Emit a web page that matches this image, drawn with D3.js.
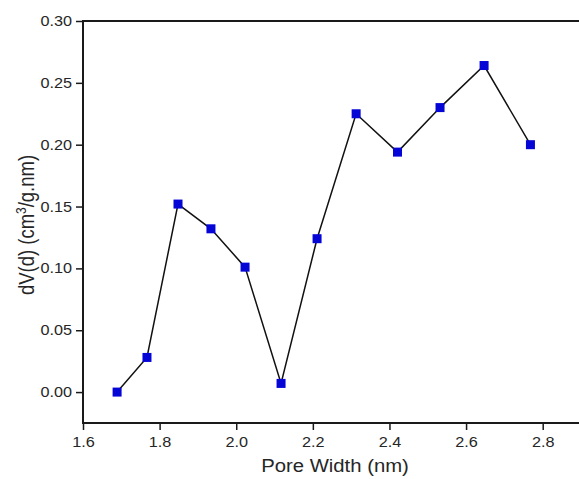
<!DOCTYPE html>
<html>
<head>
<meta charset="utf-8">
<script src="https://cdn.jsdelivr.net/npm/d3@7"></script>
<style>
  html, body { margin: 0; padding: 0; background: #fff; }
  svg { display: block; }
  text { font-family: "Liberation Sans", Arial, sans-serif; fill: #262626; }
</style>
</head>
<body>
<svg id="chart" width="579" height="479"></svg>
<script>
// Pore size distribution: pore width (nm) vs dV(d) (cm³/g.nm)
const poreWidth = [1.689, 1.767, 1.848, 1.934, 2.023, 2.117, 2.211, 2.313, 2.421, 2.532, 2.647, 2.768];
const dVd       = [0.000, 0.028, 0.152, 0.132, 0.101, 0.007, 0.124, 0.225, 0.194, 0.230, 0.264, 0.200];
const xTicks = [1.6, 1.8, 2.0, 2.2, 2.4, 2.6, 2.8];
const yTicks = [0.00, 0.05, 0.10, 0.15, 0.20, 0.25, 0.30];

const svg = d3.select("#chart");
const plotLeft = 83, plotRight = 581, plotTop = 21, plotBottom = 423;
const stretch = 1.16; // horizontal glyph stretch

const x = d3.scaleLinear().domain([1.6, 2.9]).range([plotLeft, plotRight]);
const y = d3.scaleLinear().domain([-0.025, 0.30]).range([plotBottom, plotTop]);

const axisColor = "#1a1a1a";

// frame (top and right edges)
svg.append("line").attr("x1", plotLeft).attr("x2", plotRight).attr("y1", plotTop).attr("y2", plotTop)
  .attr("stroke", axisColor).attr("stroke-width", 2);
svg.append("line").attr("x1", plotRight).attr("x2", plotRight).attr("y1", plotTop).attr("y2", plotBottom)
  .attr("stroke", axisColor).attr("stroke-width", 2);

// bottom axis
const xAxis = svg.append("g").attr("transform", `translate(0,${plotBottom})`)
  .call(d3.axisBottom(x).tickValues(xTicks).tickFormat(d3.format(".1f")).tickSizeOuter(0).tickSize(7));
// left axis
const yAxis = svg.append("g").attr("transform", `translate(${plotLeft},0)`)
  .call(d3.axisLeft(y).tickValues(yTicks).tickFormat(d3.format(".2f")).tickSizeOuter(0).tickSize(7));

[xAxis, yAxis].forEach(g => {
  g.select(".domain").attr("stroke", axisColor).attr("stroke-width", 2);
  g.selectAll(".tick line").attr("stroke", axisColor).attr("stroke-width", 1.5);
  g.selectAll(".tick text").attr("font-size", 14).attr("fill", "#2a2a2a");
});
yAxis.select(".domain").attr("d", `M0,${plotBottom + 1}V${plotTop - 1}`);
xAxis.select(".domain").attr("d", `M${plotLeft - 1},0H${plotRight}`);

// stretched tick labels
xAxis.selectAll(".tick text")
  .attr("y", 0).attr("dy", "0.32em")
  .attr("transform", `translate(0,20) scale(${stretch},1)`);
yAxis.selectAll(".tick text")
  .attr("x", 0).attr("dy", "0.32em")
  .attr("transform", `translate(-11,0) scale(${stretch},1)`);

// axis titles
svg.append("text")
  .attr("transform", `translate(335,472) scale(${stretch},1)`)
  .attr("text-anchor", "middle").attr("font-size", 17.5)
  .text("Pore Width (nm)");

const yTitle = svg.append("text")
  .attr("transform", `translate(34,225) scale(${stretch},1) rotate(-90)`)
  .attr("text-anchor", "middle").attr("font-size", 18.5);
yTitle.append("tspan").text("dV(d) (cm");
yTitle.append("tspan").attr("font-size", 12).attr("dy", -7).text("3");
yTitle.append("tspan").attr("dy", 7).text("/g.nm)");

// data line
const pts = poreWidth.map((d, i) => [d, dVd[i]]);
svg.append("path")
  .datum(pts)
  .attr("fill", "none").attr("stroke", "#111").attr("stroke-width", 1.5)
  .attr("d", d3.line().x(d => x(d[0])).y(d => y(d[1])));

// square markers
const ms = 9;
svg.selectAll("rect.pt").data(pts).join("rect")
  .attr("class", "pt")
  .attr("x", d => x(d[0]) - ms / 2).attr("y", d => y(d[1]) - ms / 2)
  .attr("width", ms).attr("height", ms)
  .attr("fill", "#0505d6");
</script>
</body>
</html>
